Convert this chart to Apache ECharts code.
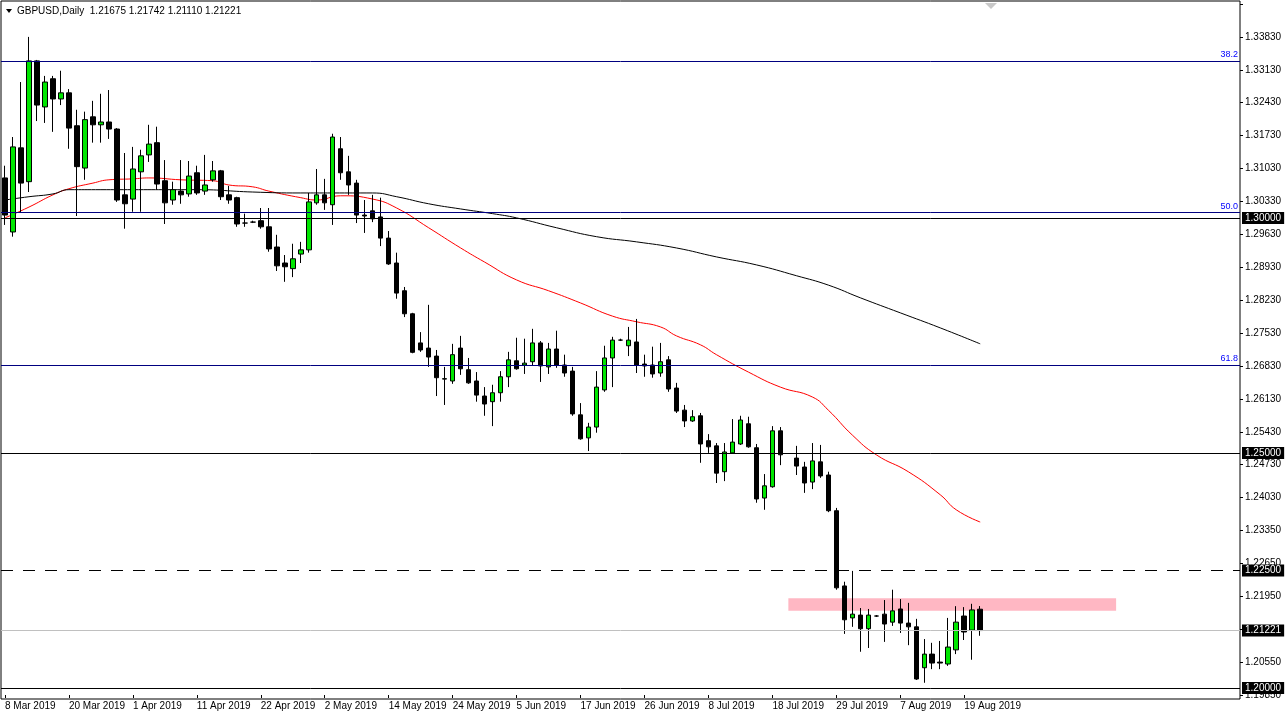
<!DOCTYPE html>
<html>
<head>
<meta charset="utf-8">
<script src="https://cdn.jsdelivr.net/npm/echarts@6/dist/echarts.min.js"></script>
<style>
  html, body { margin: 0; padding: 0; background: #fff; }
  #chart { width: 1288px; height: 722px; }
</style>
</head>
<body>
<div id="chart"></div>
<script>
  // date labels, one every 8 bars
  let dateLabels = ["8 Mar 2019", "20 Mar 2019", "1 Apr 2019", "11 Apr 2019", "22 Apr 2019", "2 May 2019",
    "14 May 2019", "24 May 2019", "5 Jun 2019", "17 Jun 2019", "26 Jun 2019", "8 Jul 2019",
    "18 Jul 2019", "29 Jul 2019", "7 Aug 2019", "19 Aug 2019"];

  // daily OHLC (null = no bar)
  let opens = [1.3085,1.2970,1.3149,1.3077,1.3334,1.3236,1.3296,1.3253,1.3266,1.3196,
    1.3106,1.3215,1.3198,1.3204,1.3189,1.3049,1.3040,1.3098,1.3134,1.3160,
    1.3079,1.3038,1.3057,1.3051,1.3096,1.3057,1.3081,1.3100,1.3049,1.3043,
    1.2989,1.2991,1.2994,1.2981,1.2938,1.2904,1.2892,1.2923,1.2932,1.3032,
    1.3049,1.3028,1.3147,1.3098,1.3074,1.3006,1.3015,1.3002,1.2957,1.2904,
    1.2845,1.2796,1.2734,1.2723,1.2706,1.2657,1.2653,1.2723,1.2677,1.2653,
    1.2621,1.2609,1.2628,1.2662,1.2696,1.2687,1.2694,1.2734,1.2683,1.2721,
    1.2687,1.2674,1.2581,1.2532,1.2555,1.2634,1.2702,1.2740,1.2728,1.2736,
    1.2689,1.2687,1.2670,1.2698,1.2638,1.2591,1.2568,1.2579,1.2526,1.2515,
    1.2460,1.2500,1.2519,1.2562,1.2511,1.2404,1.2428,1.2547,null,1.2489,
    1.2470,1.2438,1.2481,1.2453,1.2377,1.2217,1.2149,1.2155,1.2126,1.2153,
    1.2157,1.2140,1.2168,1.2138,1.2130,1.2043,1.2072,1.2055,1.2051,1.2081,
    1.2153,1.2123,1.21675];
  let closes = [1.3006,1.3151,1.3074,1.3334,1.3240,1.3289,1.3253,1.3266,1.3191,1.3109,
    1.3209,1.3198,1.3204,1.3189,1.3038,1.3030,1.3104,1.3132,1.3157,1.3072,
    1.3032,1.3060,1.3049,1.3089,1.3053,1.3070,1.3100,1.3045,1.3038,1.2987,
    1.2989,1.2991,1.2981,1.2934,1.2898,1.2896,1.2913,1.2932,1.3034,1.3049,
    1.3032,1.3172,1.3096,1.3070,1.3006,1.3004,1.2998,1.2957,1.2902,1.2840,
    1.2796,1.2714,1.2719,1.2704,1.2660,1.2658,1.2709,1.2679,1.2649,1.2623,
    1.2604,1.2628,1.2662,1.2698,1.2679,1.2691,1.2734,1.2685,1.2721,1.2687,
    1.2670,1.2583,1.2530,1.2555,1.2640,1.2702,1.2740,1.2740,1.2740,1.2687,
    1.2685,1.2668,1.2694,1.2636,1.2589,1.2568,1.2577,1.2519,1.2513,1.2457,
    1.2502,1.2523,1.2570,1.2513,1.2402,1.2430,1.2547,1.2496,null,1.2472,
    1.2436,1.2483,1.2451,1.2377,1.2213,1.2145,1.2157,1.2126,1.2155,1.2153,
    1.2136,1.2164,1.2138,1.2130,1.2019,1.2072,1.2053,1.2053,1.2087,1.2140,
    1.2119,1.2166,1.21221];
  let lows = [1.2985,1.2960,1.3011,1.3055,1.3206,1.3202,1.3183,1.3240,1.3147,1.3004,
    1.3081,1.3160,1.3160,1.3168,1.3034,1.2977,1.3013,1.3013,1.3119,1.3060,
    1.2987,1.3028,1.3030,1.3045,1.3049,1.3049,1.3077,1.3038,1.3030,1.2981,
    1.2981,1.2989,1.2977,1.2928,1.2887,1.2864,1.2874,1.2904,1.2926,1.3028,
    1.3017,1.2985,1.3081,1.3049,1.2989,1.2968,1.2991,1.2940,1.2900,1.2828,
    1.2789,1.2712,1.2715,1.2683,1.2621,1.2602,1.2647,1.2666,1.2647,1.2609,
    1.2579,1.2557,1.2609,1.2640,1.2677,1.2668,1.2687,1.2651,1.2668,1.2681,
    1.2662,1.2579,1.2528,1.2504,1.2543,1.2630,1.2640,1.2738,1.2706,1.2670,
    1.2662,1.2660,1.2662,1.2630,1.2585,1.2555,1.2566,1.2479,1.2500,1.2436,
    1.2440,1.2498,1.2517,1.2511,1.2394,1.2379,1.2426,1.2474,null,1.2453,
    1.2415,1.2423,1.2447,1.2374,1.2209,1.2115,1.2130,1.2077,1.2085,1.2151,
    1.2098,1.2132,1.2117,1.2091,1.2017,1.2011,1.2040,1.2040,1.2047,1.2072,
    1.2102,1.2060,1.21110];
  let highs = [1.3111,1.3172,1.3289,1.3385,1.3336,1.3302,1.3302,1.3313,1.3274,1.3230,
    1.3226,1.3249,1.3264,1.3272,1.3191,1.3138,1.3151,1.3145,1.3198,1.3194,
    1.3123,1.3077,1.3123,1.3121,1.3111,1.3134,1.3121,1.3102,1.3068,1.3045,
    1.3009,1.2994,1.3021,1.3021,1.2964,1.2921,1.2945,1.2949,1.3053,1.3104,
    1.3083,1.3179,1.3172,1.3132,1.3081,1.3038,1.3049,1.3043,1.2972,1.2926,
    1.2853,1.2798,1.2757,1.2815,1.2719,1.2683,1.2732,1.2749,1.2702,1.2672,
    1.2640,1.2645,1.2674,1.2715,1.2745,1.2743,1.2764,1.2738,1.2734,1.2760,
    1.2709,1.2683,1.2606,1.2564,1.2674,1.2728,1.2747,1.2743,1.2768,1.2785,
    1.2709,1.2726,1.2734,1.2706,1.2649,1.2602,1.2591,1.2585,1.2540,1.2521,
    1.2521,1.2572,1.2579,1.2577,1.2519,1.2455,1.2557,1.2555,null,1.2515,
    1.2481,1.2521,1.2517,1.2460,1.2383,1.2226,1.2249,1.2170,1.2168,1.2155,
    1.2187,1.2209,1.2189,1.2181,1.2147,1.2104,1.2096,1.2100,1.2149,1.2174,
    1.2172,1.2179,1.21742];

  // moving averages read at selected bars: [bar index, value]
  let ma50Points = [[0,1.3000],[3,1.3023],[6,1.3049],[8,1.3062],[11,1.3074],[13,1.3081],[16,1.3083],
    [18,1.3085],[22,1.3081],[26,1.3079],[28,1.3070],[31,1.3066],[33,1.3057],[37,1.3043],[39,1.3038],
    [42,1.3047],[46,1.3040],[49,1.3021],[53,1.2979],[57,1.2936],[60,1.2906],[64,1.2868],[68,1.2845],
    [72,1.2819],[76,1.2791],[79,1.2779],[82,1.2768],[84,1.2749],[87,1.2730],[89,1.2709],[93,1.2672],
    [97,1.2640],[101,1.2619],[103,1.2591],[106,1.2538],[109,1.2496],[113,1.2460],[117,1.2411],
    [119,1.2379],[122,1.2353]];
  let ma200Points = [[0,1.3038],[3,1.3045],[6,1.3051],[8,1.3060],[12,1.3060],[16,1.3060],[24,1.3060],
    [31,1.3055],[37,1.3053],[41,1.3053],[46,1.3053],[49,1.3045],[53,1.3030],[57,1.3019],[61,1.3009],
    [64,1.3000],[69,1.2979],[74,1.2960],[79,1.2949],[84,1.2936],[89,1.2917],[94,1.2900],[99,1.2877],
    [103,1.2857],[107,1.2830],[112,1.2798],[117,1.2766],[122,1.2732]];

  let fibLevels = [["38.2", 1.3334], ["50.0", 1.3011], ["61.8", 1.2687]];
  let zoneLow = 1.2164, zoneHigh = 1.2191;

  let barCount = 155;
  let categories = [];
  for (let i = 0; i < barCount; i++) {
    categories.push(i % 8 === 0 && dateLabels[i / 8] ? dateLabels[i / 8] : "");
  }
  let ohlc = opens.map(function (o, i) {
    return o === null ? "-" : [o, closes[i], lows[i], highs[i]];
  });

  let boxLabel = function (text, color) {
    return {
      show: true, position: "end", formatter: text, distance: 2,
      color: "#fff", backgroundColor: color || "#000", padding: [1, 3],
      fontSize: 10, fontFamily: "Liberation Sans"
    };
  };

  let markLines = [
    { yAxis: 1.3, lineStyle: { color: "#000", type: "solid" }, label: boxLabel("1.30000") },
    { yAxis: 1.25, lineStyle: { color: "#000", type: "solid" }, label: boxLabel("1.25000") },
    { yAxis: 1.225, lineStyle: { color: "#000", type: [12, 10] }, label: boxLabel("1.22500") },
    { yAxis: 1.21221, lineStyle: { color: "#c0c0c0", type: "solid" }, label: boxLabel("1.21221") },
    { yAxis: 1.2, lineStyle: { color: "#000", type: "solid" }, label: boxLabel("1.20000") }
  ];
  fibLevels.forEach(function (f) {
    markLines.push({
      yAxis: f[1], lineStyle: { color: "#000080", type: "solid" },
      label: { show: true, position: "insideEndTop", formatter: f[0], color: "#0000ff",
        fontSize: 9, fontFamily: "Liberation Sans", distance: 2 }
    });
  });

  let chart = echarts.init(document.getElementById("chart"));
  chart.setOption({
    animation: false,
    backgroundColor: "#fff",
    grid: { left: 1, right: 48, top: 4, bottom: 27 },
    graphic: [
      { type: "rect", shape: { x: 1, y: 1, width: 1239, height: 698 }, style: { fill: "none", stroke: "#000", lineWidth: 1 }, silent: true },
      { type: "polygon", shape: { points: [[6, 9], [12, 9], [9, 13]] }, style: { fill: "#000" } },
      { type: "text", left: 17, top: 6, style: { text: "GBPUSD,Daily  1.21675 1.21742 1.21110 1.21221", fill: "#000", font: "10px Liberation Sans" } },
      { type: "polygon", shape: { points: [[985, 3], [997, 3], [991, 9]] }, style: { fill: "#c8c8c8" } }
    ],
    xAxis: {
      type: "category",
      data: categories,
      boundaryGap: true,
      axisLine: { show: false },
      axisTick: { show: true, alignWithLabel: true, length: 3, lineStyle: { color: "#000" },
        interval: function (i, v) { return v !== ""; } },
      axisLabel: { interval: function (i, v) { return v !== ""; }, align: "left", margin: 6,
        color: "#000", fontSize: 10, fontFamily: "Liberation Sans" },
      splitLine: { show: false }
    },
    yAxis: {
      type: "value",
      position: "right",
      min: 1.1985,
      max: 1.3455,
      interval: 0.007,
      axisLine: { show: false },
      axisTick: { show: true, length: 3, lineStyle: { color: "#000" } },
      axisLabel: { color: "#000", fontSize: 10, fontFamily: "Liberation Sans", margin: 5,
        formatter: function (v) {
          // terminal shows its upper grid steps 2 points lower
          if (v > 1.34 || Math.abs(v - 1.2125) < 1e-6) return "";
          return (v > 1.237 ? v - 0.0002 : v).toFixed(5);
        } },
      splitLine: { show: false }
    },
    series: [
      {
        type: "candlestick",
        data: ohlc,
        barWidth: 5,
        itemStyle: { color: "#00e600", color0: "#000", borderColor: "#000", borderColor0: "#000", borderWidth: 1 },
        markLine: { symbol: "none", silent: true, animation: false, precision: 5, data: markLines },
        markArea: {
          silent: true,
          itemStyle: { color: "rgba(255,170,185,0.85)" },
          data: [[{ xAxis: 98, yAxis: zoneHigh }, { xAxis: 139, yAxis: zoneLow }]]
        },
        z: 3
      },
      {
        type: "line", data: ma50Points, smooth: true, symbol: "none",
        lineStyle: { color: "#ff0000", width: 1 }, z: 2
      },
      {
        type: "line", data: ma200Points, smooth: true, symbol: "none",
        lineStyle: { color: "#000", width: 1 }, z: 2
      }
    ]
  });
</script>
</body>
</html>
